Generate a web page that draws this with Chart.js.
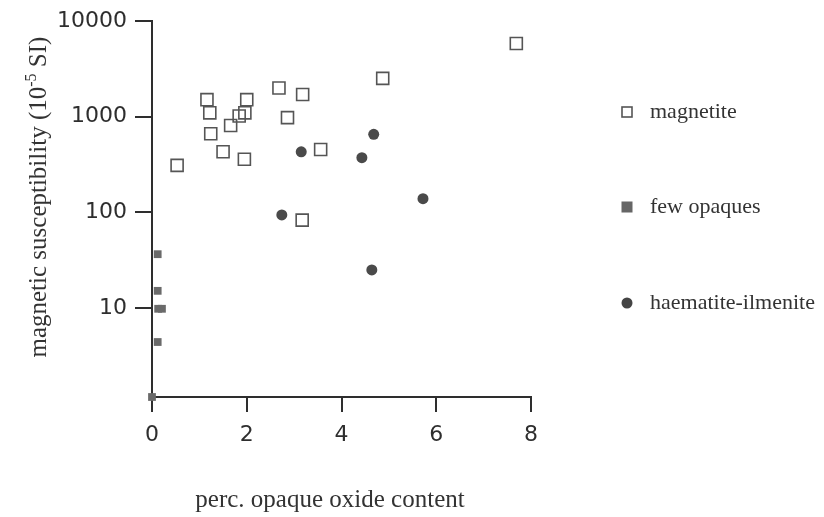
<!DOCTYPE html>
<html>
<head>
<meta charset="utf-8">
<title>magnetic susceptibility vs opaque oxide content</title>
<script src="https://cdn.jsdelivr.net/npm/chart.js@4/dist/chart.umd.min.js"></script>
<style>
    html, body { margin: 0; padding: 0; background: #fff; }
    #chart { display: block; }
</style>
</head>
<body>
<canvas id="chart" width="824" height="517"></canvas>
<script>
// Axis ticks
const xTicks = [0, 2, 4, 6, 8];
const yTicks = [10, 100, 1000, 10000];

// magnetite samples (open squares)
const magnetiteX = [0.53, 1.16, 1.22, 1.24, 1.50, 1.66, 1.84, 1.96, 2.00, 1.95, 2.68, 3.18, 2.86, 3.56, 4.87, 7.69, 3.17];
const magnetiteY = [310, 1510, 1100, 665, 430, 810, 1020, 1100, 1510, 360, 2000, 1710, 980, 455, 2520, 5850, 83];

// few opaques samples (filled squares)
const fewOpaquesX = [0.12, 0.12, 0.13, 0.21, 0.12, 0.0];
const fewOpaquesY = [36.5, 15.1, 9.8, 9.8, 4.4, 1.17];

// haematite-ilmenite samples (filled circles)
const haematiteX = [3.15, 4.68, 4.43, 5.72, 4.64, 2.74];
const haematiteY = [430, 655, 373, 139, 25, 94];

const axisColor = '#2e2e2e';
const textColor = '#333';

function toPoints(xs, ys) {
    return xs.map((x, i) => ({ x: x, y: ys[i] }));
}

// Legend entries drawn at the right of the plot
const legendItems = [
    { label: 'magnetite', style: 'open', y: 112 },
    { label: 'few opaques', style: 'square', y: 207 },
    { label: 'haematite-ilmenite', style: 'dot', y: 303 }
];

const annotations = {
    id: 'annotations',
    afterDraw(chart) {
        const ctx = chart.ctx;
        const area = chart.chartArea;
        ctx.save();
        ctx.fillStyle = textColor;

        // x axis title
        ctx.font = '25px "Liberation Serif"';
        ctx.textAlign = 'center';
        ctx.textBaseline = 'alphabetic';
        ctx.fillText('perc. opaque oxide content', 330, 507);

        // y axis title with superscript exponent
        const big = '25px "Liberation Serif"';
        const small = '16px "Liberation Serif"';
        const partA = 'magnetic susceptibility (10';
        const partB = '-5';
        const partC = ' SI)';
        ctx.font = big;
        const wA = ctx.measureText(partA).width;
        const wC = ctx.measureText(partC).width;
        ctx.font = small;
        const wB = ctx.measureText(partB).width;
        const total = wA + wB + wC;
        ctx.translate(46, (area.top + area.bottom) / 2 - 12);
        ctx.rotate(-Math.PI / 2);
        ctx.textAlign = 'left';
        let x0 = -total / 2;
        ctx.font = big;
        ctx.fillText(partA, x0, 0);
        ctx.font = small;
        ctx.fillText(partB, x0 + wA, -10);
        ctx.font = big;
        ctx.fillText(partC, x0 + wA + wB, 0);
        ctx.restore();

        // legend
        ctx.save();
        ctx.font = '22px "Liberation Serif"';
        ctx.textAlign = 'left';
        ctx.textBaseline = 'middle';
        legendItems.forEach(item => {
            const mx = 627;
            if (item.style === 'open') {
                ctx.strokeStyle = '#555';
                ctx.lineWidth = 1.6;
                ctx.strokeRect(mx - 5, item.y - 5, 10, 10);
            } else if (item.style === 'square') {
                ctx.fillStyle = '#666';
                ctx.fillRect(mx - 5.5, item.y - 5.5, 11, 11);
            } else {
                ctx.fillStyle = '#444';
                ctx.beginPath();
                ctx.arc(mx, item.y, 5.5, 0, Math.PI * 2);
                ctx.fill();
            }
            ctx.fillStyle = textColor;
            ctx.fillText(item.label, 650, item.y);
        });
        ctx.restore();
    }
};

new Chart(document.getElementById('chart'), {
    type: 'scatter',
    data: {
        datasets: [
            {
                label: 'magnetite',
                data: toPoints(magnetiteX, magnetiteY),
                pointStyle: 'rect',
                pointRadius: 8.5,
                backgroundColor: 'rgba(255,255,255,0)',
                borderColor: '#555',
                borderWidth: 1.6,
                clip: false
            },
            {
                label: 'few opaques',
                data: toPoints(fewOpaquesX, fewOpaquesY),
                pointStyle: 'rect',
                pointRadius: 5.5,
                backgroundColor: '#6a6a6a',
                borderColor: '#6a6a6a',
                borderWidth: 0,
                clip: false
            },
            {
                label: 'haematite-ilmenite',
                data: toPoints(haematiteX, haematiteY),
                pointStyle: 'circle',
                pointRadius: 5.5,
                backgroundColor: '#4a4a4a',
                borderColor: '#4a4a4a',
                borderWidth: 0,
                clip: false
            }
        ]
    },
    options: {
        responsive: false,
        animation: false,
        layout: {
            padding: { left: 0, top: 20, right: 293, bottom: 0 }
        },
        plugins: {
            legend: { display: false },
            tooltip: { enabled: false }
        },
        scales: {
            x: {
                type: 'linear',
                min: 0,
                max: 8,
                afterBuildTicks: (scale) => {
                    scale.ticks = xTicks.map(v => ({ value: v }));
                },
                afterFit: (scale) => { scale.height = 120; },
                ticks: {
                    color: axisColor,
                    font: { family: 'DejaVu Sans', size: 22 },
                    padding: 10,
                    maxRotation: 0
                },
                grid: {
                    display: true,
                    drawOnChartArea: false,
                    drawTicks: true,
                    tickLength: 15,
                    color: axisColor,
                    lineWidth: 2
                },
                border: { display: true, color: axisColor, width: 2 }
            },
            y: {
                type: 'logarithmic',
                min: 1.17,
                max: 10000,
                afterBuildTicks: (scale) => {
                    scale.ticks = yTicks.map(v => ({ value: v }));
                },
                afterFit: (scale) => { scale.width = 152; },
                ticks: {
                    color: axisColor,
                    font: { family: 'DejaVu Sans', size: 22 },
                    padding: 8,
                    callback: (v) => String(v)
                },
                grid: {
                    display: true,
                    drawOnChartArea: false,
                    drawTicks: true,
                    tickLength: 17,
                    color: axisColor,
                    lineWidth: 2
                },
                border: { display: true, color: axisColor, width: 2 }
            }
        }
    },
    plugins: [annotations]
});
</script>
</body>
</html>
